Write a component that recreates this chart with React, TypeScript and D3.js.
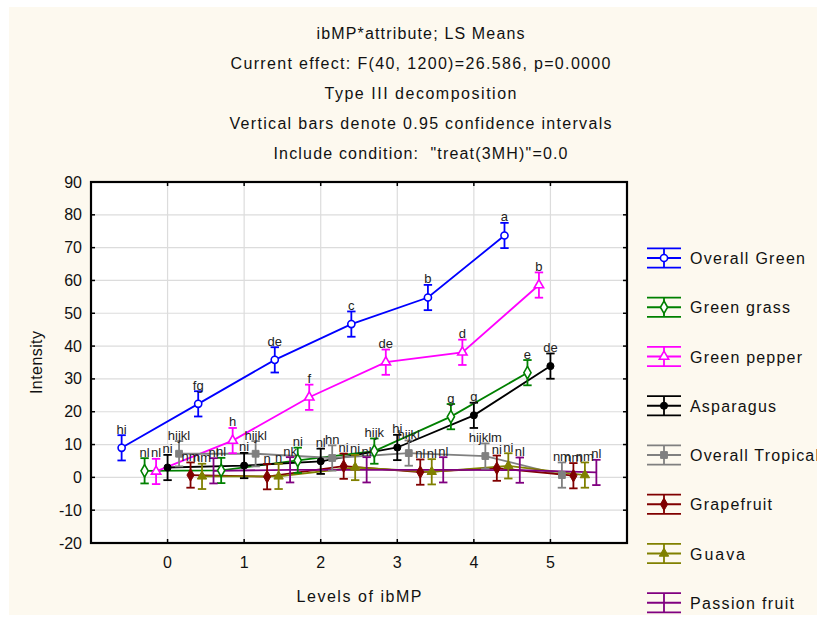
import React from 'react';
import * as d3 from 'd3';

// ---------- data ----------
const levels = [0, 1, 2, 3, 4, 5];
const xTicks = [0, 1, 2, 3, 4, 5];
const yTicks = [-20, -10, 0, 10, 20, 30, 40, 50, 60, 70, 80, 90];

const seriesNames = ['Overall Green', 'Green grass', 'Green pepper', 'Asparagus', 'Overall Tropical', 'Grapefruit', 'Guava', 'Passion fruit'];
const seriesColors = ['#0000ff', '#008000', '#ff00ff', '#000000', '#808080', '#800000', '#808000', '#800080'];
const seriesOffsets = [-0.6, -0.3, -0.15, 0, 0.15, 0.3, 0.45, 0.6];
const seriesMarkers = ['circleOpen', 'diamondOpen', 'triangleOpen', 'circle', 'square', 'diamond', 'triangle', 'none'];

const overallGreen = [9.0, 22.4, 35.8, 46.7, 54.8, 73.7];
const greenGrass = [2.0, 2.1, 5.2, 8.0, 18.5, 31.9];
const greenPepper = [1.8, 11.2, 24.4, 35.1, 38.1, 58.6];
const asparagus = [3.0, 3.6, 4.9, 9.1, 18.9, 33.9];
const overallTropical = [7.2, 7.2, 5.9, 7.4, 6.5, 0.7];
const grapefruit = [0.7, 0.2, 3.4, 1.6, 2.8, 0.5];
const guava = [0.3, 0.3, 3.0, 1.7, 3.5, 0.7];
const passionFruit = [2.0, 2.3, 2.3, 2.3, 2.2, 1.5];
const seriesValues = [overallGreen, greenGrass, greenPepper, asparagus, overallTropical, grapefruit, guava, passionFruit];

const ciHalfWidth = 3.85;

const overallGreenLetters = ['hi', 'fg', 'de', 'c', 'b', 'a'];
const greenGrassLetters = ['nl', 'nl', 'ni', 'hijk', 'g', 'e'];
const greenPepperLetters = ['nl', 'h', 'f', 'de', 'd', 'b'];
const asparagusLetters = ['ni', 'ni', 'nl', 'hi', 'g', 'de'];
const overallTropicalLetters = ['hijkl', 'hijkl', 'hn', 'hijkl', 'hijklm', 'nm'];
const grapefruitLetters = ['nm', 'n', 'ni', 'nl', 'ni', 'nm'];
const guavaLetters = ['nm', 'n', 'ni', 'nl', 'ni', 'nm'];
const passionFruitLetters = ['nl', 'nk', 'nl', 'nl', 'nl', 'nl'];
const seriesLetters = [overallGreenLetters, greenGrassLetters, greenPepperLetters, asparagusLetters, overallTropicalLetters, grapefruitLetters, guavaLetters, passionFruitLetters];

const titleLines = [
  'ibMP*attribute; LS Means',
  'Current effect: F(40, 1200)=26.586, p=0.0000',
  'Type III decomposition',
  'Vertical bars denote 0.95 confidence intervals',
  'Include condition:  "treat(3MH)"=0.0',
];
const titleWidths = [208, 380, 192, 382, 294];
const legendWidths = [115, 100, 112, 86, 129, 82, 55, 104];

const xLabel = 'Levels of ibMP';
const yLabel = 'Intensity';

// ---------- layout ----------
const W = 817;
const H = 618;
const plot = { left: 91, right: 627, top: 182, bottom: 543 };
const FONT = '"Liberation Sans", Arial, sans-serif';

const x = d3.scaleLinear().domain([-1, 6]).range([plot.left, plot.right]);
const y = d3.scaleLinear().domain([-20, 90]).range([plot.bottom, plot.top]);

function Marker({ type, color, cx, cy }: { type: string; color: string; cx: number; cy: number }) {
  if (type === 'none') return null;
  const open = type.endsWith('Open');
  const base = type.replace('Open', '');
  const sym =
    base === 'circle' ? d3.symbolCircle : base === 'diamond' ? d3.symbolDiamond : base === 'triangle' ? d3.symbolTriangle : d3.symbolSquare;
  const size = base === 'circle' ? 40 : base === 'diamond' ? 45 : base === 'triangle' ? 38 : 46;
  const path = d3.symbol(sym, size)() || '';
  return (
    <path
      d={path}
      transform={`translate(${cx},${cy})`}
      fill={open ? '#ffffff' : color}
      stroke={color}
      strokeWidth={open ? 1.6 : 1}
    />
  );
}

export default function App() {
  const line = d3
    .line<[number, number]>()
    .x((d) => d[0])
    .y((d) => d[1]);

  const legendY0 = 258;
  const legendStep = 49.25;
  const legendX0 = 647;
  const legendX1 = 681;

  return (
    <svg
      width={W}
      height={H}
      style={{ position: 'absolute', left: 0, top: 0, background: '#ffffff' }}
      fontFamily={FONT}
    >
      <rect x={9} y={7} width={W - 9} height={608} fill="#fdf9ef" />

      {/* titles */}
      {titleLines.map((t, i) => (
        <text
          key={i}
          x={420.5}
          y={38.5 + i * 30}
          textAnchor="middle"
          fontSize={16}
          fill="#111"
          textLength={titleWidths[i]}
          lengthAdjust="spacing"
          style={{ whiteSpace: 'pre' }}
        >
          {t}
        </text>
      ))}

      {/* plot area */}
      <rect x={plot.left} y={plot.top} width={plot.right - plot.left} height={plot.bottom - plot.top} fill="#ffffff" />

      {/* grid */}
      {yTicks.slice(1, -1).map((v) => (
        <line key={'gy' + v} x1={plot.left} x2={plot.right} y1={y(v)} y2={y(v)} stroke="#dcdcdc" strokeWidth={1.2} />
      ))}
      {xTicks.map((v) => (
        <line key={'gx' + v} x1={x(v)} x2={x(v)} y1={plot.top} y2={plot.bottom} stroke="#dcdcdc" strokeWidth={1.2} />
      ))}

      {/* ticks inward */}
      {yTicks.slice(1, -1).map((v) => (
        <g key={'ty' + v}>
          <line x1={plot.left} x2={plot.left + 4} y1={y(v)} y2={y(v)} stroke="#000" strokeWidth={1.5} />
          <line x1={plot.right - 4} x2={plot.right} y1={y(v)} y2={y(v)} stroke="#000" strokeWidth={1.5} />
        </g>
      ))}
      {xTicks.map((v) => (
        <g key={'tx' + v}>
          <line x1={x(v)} x2={x(v)} y1={plot.top} y2={plot.top + 4} stroke="#000" strokeWidth={1.5} />
          <line x1={x(v)} x2={x(v)} y1={plot.bottom - 4} y2={plot.bottom} stroke="#000" strokeWidth={1.5} />
        </g>
      ))}

      {/* series lines */}
      {seriesValues.map((vals, si) => {
        const pts: [number, number][] = levels.map((l, i) => [x(l + seriesOffsets[si]), y(vals[i])]);
        return <path key={'ln' + si} d={line(pts) || ''} fill="none" stroke={seriesColors[si]} strokeWidth={1.8} />;
      })}

      {/* error bars + markers */}
      {seriesValues.map((vals, si) => (
        <g key={'eb' + si}>
          {levels.map((l, i) => {
            const cx = x(l + seriesOffsets[si]);
            const yt = y(vals[i] + ciHalfWidth);
            const yb = y(vals[i] - ciHalfWidth);
            const c = seriesColors[si];
            return (
              <g key={i}>
                <line x1={cx} x2={cx} y1={yt} y2={yb} stroke={c} strokeWidth={1.8} />
                <line x1={cx - 4.2} x2={cx + 4.2} y1={yt} y2={yt} stroke={c} strokeWidth={1.8} />
                <line x1={cx - 4.2} x2={cx + 4.2} y1={yb} y2={yb} stroke={c} strokeWidth={1.8} />
                <Marker type={seriesMarkers[si]} color={c} cx={cx} cy={y(vals[i])} />
              </g>
            );
          })}
        </g>
      ))}

      {/* letters */}
      {seriesValues.map((vals, si) => (
        <g key={'lt' + si}>
          {levels.map((l, i) => (
            <text
              key={i}
              x={x(l + seriesOffsets[si])}
              y={y(vals[i] + ciHalfWidth) - 1.5}
              textAnchor="middle"
              fontSize={13}
              fill="#222"
            >
              {seriesLetters[si][i]}
            </text>
          ))}
        </g>
      ))}

      {/* frame */}
      <rect
        x={plot.left}
        y={plot.top}
        width={plot.right - plot.left}
        height={plot.bottom - plot.top}
        fill="none"
        stroke="#000"
        strokeWidth={2.2}
      />

      {/* tick labels */}
      {yTicks.map((v) => (
        <text key={'yl' + v} x={82} y={y(v) + 5.5} textAnchor="end" fontSize={16} fill="#111">
          {v}
        </text>
      ))}
      {xTicks.map((v) => (
        <text key={'xl' + v} x={x(v)} y={567.5} textAnchor="middle" fontSize={16} fill="#111">
          {v}
        </text>
      ))}

      {/* axis labels */}
      <text x={359} y={602} textAnchor="middle" fontSize={16} fill="#111" textLength={125} lengthAdjust="spacing">
        {xLabel}
      </text>
      <text
        transform={`translate(42,${(plot.top + plot.bottom) / 2}) rotate(-90)`}
        textAnchor="middle"
        fontSize={16}
        fill="#111"
        textLength={63}
        lengthAdjust="spacing"
      >
        {yLabel}
      </text>

      {/* legend */}
      {seriesNames.map((n, si) => {
        const ly = legendY0 + si * legendStep;
        const c = seriesColors[si];
        const mx = (legendX0 + legendX1) / 2;
        return (
          <g key={'lg' + si}>
            <line x1={legendX0} x2={legendX1} y1={ly - 9.7} y2={ly - 9.7} stroke={c} strokeWidth={1.8} />
            <line x1={legendX0} x2={legendX1} y1={ly} y2={ly} stroke={c} strokeWidth={1.8} />
            <line x1={legendX0} x2={legendX1} y1={ly + 9.7} y2={ly + 9.7} stroke={c} strokeWidth={1.8} />
            <line x1={mx} x2={mx} y1={ly - 9.7} y2={ly + 9.7} stroke={c} strokeWidth={1.8} />
            <Marker type={seriesMarkers[si]} color={c} cx={mx} cy={ly} />
            <text x={690} y={ly + 6} fontSize={16} fill="#111" textLength={legendWidths[si]} lengthAdjust="spacing">
              {n}
            </text>
          </g>
        );
      })}
    </svg>
  );
}
